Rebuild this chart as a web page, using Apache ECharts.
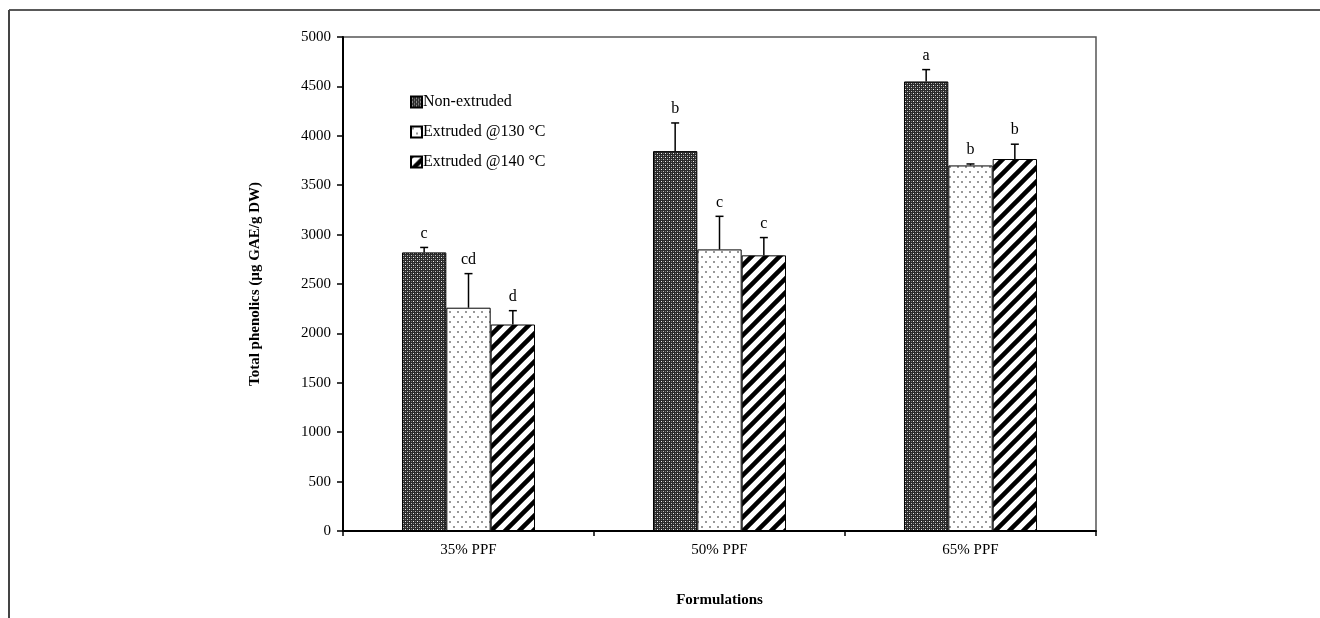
<!DOCTYPE html>
<html>
<head>
<meta charset="utf-8">
<script src="https://cdn.jsdelivr.net/npm/echarts@6/dist/echarts.min.js"></script>
<style>
  html, body { margin: 0; padding: 0; background: #fff; }
  #chart { width: 1320px; height: 618px; }
</style>
</head>
<body>
<div id="chart"></div>
<script>
var categories = ['35% PPF', '50% PPF', '65% PPF'];
var seriesNames = ['Non-extruded', 'Extruded @130 °C', 'Extruded @140 °C'];
var nonExtruded = [2820, 3845, 4550];
var extruded130 = [2260, 2850, 3700];
var extruded140 = [2090, 2790, 3765];
var errNonExtruded = [50, 285, 120];
var err130 = [345, 335, 15];
var err140 = [140, 180, 150];
var lettersNonExtruded = ['c', 'b', 'a'];
var letters130 = ['cd', 'c', 'b'];
var letters140 = ['d', 'c', 'b'];

var values = [nonExtruded, extruded130, extruded140];
var errors = [errNonExtruded, err130, err140];
var letters = [lettersNonExtruded, letters130, letters140];

var serif = '"Liberation Serif", "Times New Roman", serif';

// fill patterns
function makeTile(w, h, draw) {
    var c = document.createElement('canvas');
    c.width = w;
    c.height = h;
    draw(c.getContext('2d'), w, h);
    return c;
}
var checkTile = makeTile(4, 4, function (ctx) {
    ctx.fillStyle = '#2a2a2a';
    ctx.fillRect(0, 0, 4, 4);
    ctx.fillStyle = '#f0f0f0';
    ctx.fillRect(1, 1, 1, 1);
    ctx.fillStyle = '#c0c0c0';
    ctx.fillRect(3, 3, 1, 1);
    ctx.fillStyle = '#707070';
    ctx.fillRect(1, 3, 1, 1);
    ctx.fillRect(3, 1, 1, 1);
});
var dotTile = makeTile(8, 10, function (ctx) {
    ctx.fillStyle = '#fff';
    ctx.fillRect(0, 0, 8, 10);
    ctx.fillStyle = '#999';
    ctx.fillRect(1, 1, 2, 2);
    ctx.fillRect(5, 6, 2, 2);
});
var stripeTile = makeTile(14, 14, function (ctx) {
    ctx.fillStyle = '#fff';
    ctx.fillRect(0, 0, 14, 14);
    ctx.strokeStyle = '#000';
    ctx.lineWidth = 4.5;
    ctx.beginPath();
    for (var k = -1; k <= 1; k++) {
        ctx.moveTo(-2 + k * 14, 16);
        ctx.lineTo(16 + k * 14, -2);
    }
    ctx.stroke();
});
var fills = [
    { image: checkTile, repeat: 'repeat' },
    { image: dotTile, repeat: 'repeat' },
    { image: stripeTile, repeat: 'repeat' }
];

var chart = echarts.init(document.getElementById('chart'));

var gapFrac = 0.47;

function errorSeries(i) {
    var data = categories.map(function (c, j) {
        return [j, values[i][j], errors[i][j], letters[i][j]];
    });
    return {
        type: 'custom',
        name: seriesNames[i] + ' error',
        silent: true,
        z: 5,
        data: data,
        encode: { x: 0, y: 1 },
        renderItem: function (params, api) {
            var band = api.size([1, 0])[0];
            var barW = band * (1 - gapFrac) / 3;
            var base = api.coord([api.value(0), api.value(1)]);
            var top = api.coord([api.value(0), api.value(1) + api.value(2)]);
            var x = base[0] + (i - 1) * barW;
            return {
                type: 'group',
                children: [
                    { type: 'line', shape: { x1: x, y1: base[1], x2: x, y2: top[1] }, style: { stroke: '#000', lineWidth: 1.5 } },
                    { type: 'line', shape: { x1: x - 4, y1: top[1], x2: x + 4, y2: top[1] }, style: { stroke: '#000', lineWidth: 1.5 } },
                    { type: 'text', x: x, y: top[1] - 6, style: { text: api.value(3), fill: '#000', font: '16px ' + serif, textAlign: 'center', textVerticalAlign: 'bottom' } }
                ]
            };
        }
    };
}

var series = [];
for (var i = 0; i < 3; i++) {
    series.push({
        name: seriesNames[i],
        type: 'bar',
        data: values[i],
        barGap: '0%',
        barCategoryGap: (gapFrac * 100) + '%',
        itemStyle: { color: fills[i], borderColor: '#000', borderWidth: 1 }
    });
}
for (var i = 0; i < 3; i++) series.push(errorSeries(i));

var option = {
    animation: false,
    backgroundColor: '#fff',
    textStyle: { fontFamily: serif, color: '#000' },
    grid: {
        left: 343, right: 224, top: 37, bottom: 87,
        show: true, borderColor: '#555', borderWidth: 1.5
    },
    legend: {
        data: seriesNames,
        orient: 'vertical',
        left: 405, top: 89,
        itemWidth: 11, itemHeight: 11,
        itemGap: 14,
        icon: 'rect',
        textStyle: { fontFamily: serif, fontSize: 16, color: '#000', padding: [0, 0, 0, -4] },
        selectedMode: false
    },
    xAxis: {
        type: 'category',
        data: categories,
        name: 'Formulations',
        nameLocation: 'middle',
        nameGap: 62,
        nameTextStyle: { fontFamily: serif, fontSize: 15, fontWeight: 'bold', color: '#000' },
        axisLine: { lineStyle: { color: '#000', width: 2 } },
        axisTick: { show: true, length: 5, lineStyle: { color: '#000', width: 1.5 } },
        axisLabel: { fontFamily: serif, fontSize: 15, color: '#000', margin: 12 }
    },
    yAxis: {
        type: 'value',
        min: 0, max: 5000, interval: 500,
        name: 'Total phenolics (µg GAE/g DW)',
        nameLocation: 'middle',
        nameGap: 80,
        nameTextStyle: { fontFamily: serif, fontSize: 15, fontWeight: 'bold', color: '#000' },
        axisLine: { show: true, lineStyle: { color: '#000', width: 2 } },
        axisTick: { show: true, length: 6, lineStyle: { color: '#000', width: 1.5 } },
        axisLabel: {
            fontFamily: serif, fontSize: 15, color: '#000', margin: 12,
            formatter: function (v) { return String(v); }
        },
        splitLine: { show: false }
    },
    graphic: [
        { type: 'line', shape: { x1: 9, y1: 10, x2: 1320, y2: 10 }, style: { stroke: '#222', lineWidth: 1.5 } },
        { type: 'line', shape: { x1: 9, y1: 10, x2: 9, y2: 618 }, style: { stroke: '#444', lineWidth: 2 } }
    ],
    series: series
};

chart.setOption(option);
</script>
</body>
</html>
